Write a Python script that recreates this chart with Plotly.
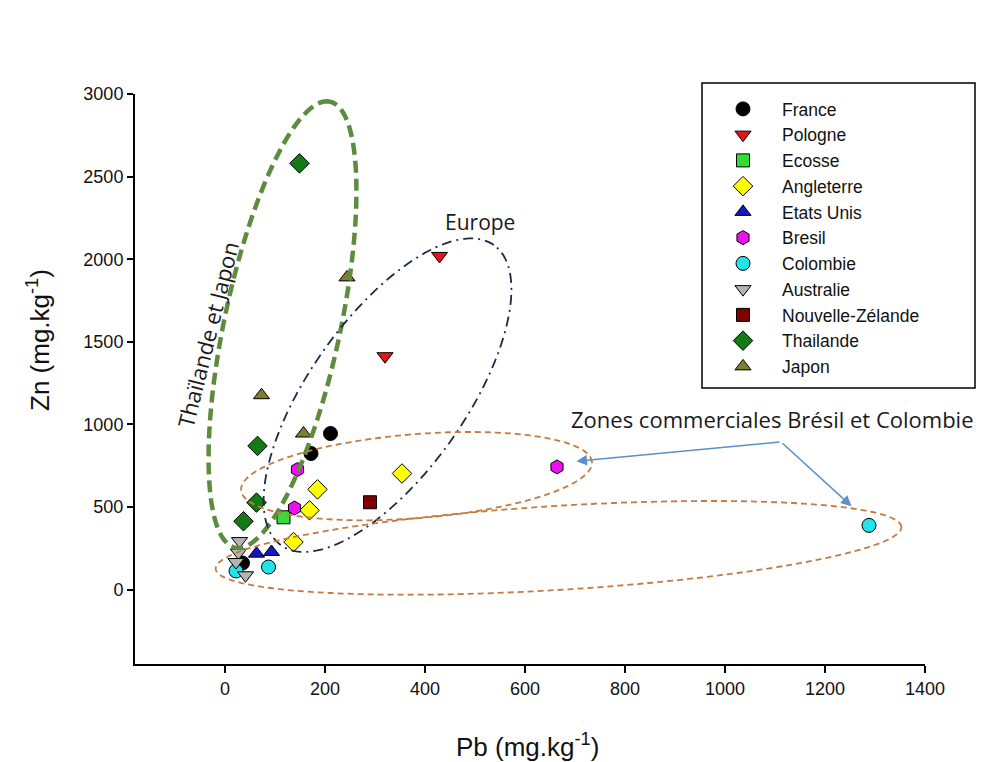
import numpy as np
import plotly.graph_objects as go

# Pb / Zn (mg.kg-1) par pays
france_pb = [211, 172, 35]
france_zn = [945, 824, 161]
pologne_pb = [429, 320]
pologne_zn = [2020, 1413]
ecosse_pb = [117]
ecosse_zn = [438]
angleterre_pb = [354, 185, 169, 137]
angleterre_zn = [703, 607, 480, 288]
etats_unis_pb = [63, 93]
etats_unis_zn = [218, 228]
bresil_pb = [145, 139, 664]
bresil_zn = [727, 494, 743]
colombie_pb = [87, 22, 1288]
colombie_zn = [137, 113, 389]
australie_pb = [29, 27, 22, 41]
australie_zn = [294, 224, 167, 87]
nz_pb = [290]
nz_zn = [529]
thailande_pb = [149, 65, 63, 37]
thailande_zn = [2580, 870, 527, 414]
japon_pb = [244, 73, 157]
japon_zn = [1890, 1177, 945]

series = [
    ("France", france_pb, france_zn, "circle", "#000000"),
    ("Pologne", pologne_pb, pologne_zn, "triangle-down", "#e3151c"),
    ("Ecosse", ecosse_pb, ecosse_zn, "square", "#35dc35"),
    ("Angleterre", angleterre_pb, angleterre_zn, "diamond", "#ffff00"),
    ("Etats Unis", etats_unis_pb, etats_unis_zn, "triangle-up", "#1414c8"),
    ("Bresil", bresil_pb, bresil_zn, "hexagon", "#ee10ee"),
    ("Colombie", colombie_pb, colombie_zn, "circle", "#22e3ea"),
    ("Australie", australie_pb, australie_zn, "triangle-down", "#b4b4b4"),
    ("Nouvelle-Zélande", nz_pb, nz_zn, "square", "#800000"),
    ("Thailande", thailande_pb, thailande_zn, "diamond", "#147a14"),
    ("Japon", japon_pb, japon_zn, "triangle-up", "#7d7f2e"),
]

x_range = [-180, 1400]
y_range = [-450, 3000]
OFF = 8  # marge du body de la page
W, H = 985 - OFF, 762 - OFF
ml, mr, mt, mb = 127, 60, 86, 98
pw, ph = W - ml - mr, H - mt - mb
kx = pw / (x_range[1] - x_range[0])   # px par unité
ky = ph / (y_range[1] - y_range[0])


def px_to_paper_x(px):
    return (px - OFF - ml) / pw


def px_to_paper_y(py):
    return (H - mb - (py - OFF)) / ph


def ellipse_path(cx, cy, a, b, angle):
    # a, b en pixels, angle en degrés (sens trigo à l'écran)
    t = np.linspace(0, 2 * np.pi, 140)
    th = np.radians(angle)
    dx = a * np.cos(t) * np.cos(th) - b * np.sin(t) * np.sin(th)
    dy = a * np.cos(t) * np.sin(th) + b * np.sin(t) * np.cos(th)
    xs = cx + dx / kx
    ys = cy + dy / ky
    return "M " + " L ".join(f"{x:.2f},{y:.2f}" for x, y in zip(xs, ys)) + " Z"


fig = go.Figure()
for name, pb, zn, sym, col in series:
    size = {"diamond": 15, "square": 13}.get(sym, 14)
    fig.add_trace(go.Scatter(
        x=pb, y=zn, mode="markers", name=name,
        marker=dict(symbol=sym, size=size, color=col,
                    line=dict(color="black", width=1)),
    ))

shapes = [
    dict(type="path", path=ellipse_path(115, 1604, 228, 58, 78),
         line=dict(color="#5e8c3e", width=4.5, dash="12px,6px")),
    dict(type="path", path=ellipse_path(325, 1177, 184, 78, 54.7),
         line=dict(color="#1c2a48", width=1.8, dash="10px,5px,2px,5px")),
    dict(type="path", path=ellipse_path(383, 687, 176, 42, 4.6),
         line=dict(color="#c47a40", width=1.8, dash="6px,4px")),
    dict(type="path", path=ellipse_path(667, 253, 343.5, 42, 3.5),
         line=dict(color="#c47a40", width=1.8, dash="6px,4px")),
    # cadre de la légende
    dict(type="rect", xref="paper", yref="paper",
         x0=px_to_paper_x(702), x1=px_to_paper_x(975),
         y0=px_to_paper_y(388), y1=px_to_paper_y(83),
         line=dict(color="black", width=1.5)),
]
for s in shapes:
    s.setdefault("layer", "above")

note_font = dict(family="Open Sans", size=22, color="#1a1a1a")
title_font = dict(family="Liberation Sans, Arial", size=26, color="#111111")
annotations = [
    dict(x=509, y=2226, text="Europe", showarrow=False,
         font=dict(note_font, size=21)),
    dict(x=-35, y=1540, text="Thaïlande et Japon", showarrow=False,
         textangle=-76, font=note_font),
    dict(x=1094, y=1031, text="Zones commerciales Brésil et Colombie",
         showarrow=False, font=note_font),
    dict(x=703, y=777, ax=1112, ay=894, axref="x", ayref="y", text="",
         showarrow=True, arrowhead=2, arrowsize=1.4, arrowwidth=1.5,
         arrowcolor="#5b8fc6"),
    dict(x=1253, y=505, ax=1112, ay=894, axref="x", ayref="y", text="",
         showarrow=True, arrowhead=2, arrowsize=1.4, arrowwidth=1.5,
         arrowcolor="#5b8fc6"),
    # titres des axes
    dict(xref="paper", yref="paper", x=px_to_paper_x(527), y=px_to_paper_y(745),
         xanchor="center", yanchor="middle",
         text="Pb (mg.kg<sup>-1</sup>)", showarrow=False, font=title_font),
    dict(xref="paper", yref="paper", x=px_to_paper_x(38), y=px_to_paper_y(340),
         xanchor="center", yanchor="middle",
         text="Zn (mg.kg<sup>-1</sup>)", showarrow=False, textangle=-90,
         font=title_font),
]

axis_font = dict(family="Liberation Sans, Arial", size=18, color="#111111")
fig.update_layout(
    width=W, height=H,
    margin=dict(l=ml, r=mr, t=mt, b=mb),
    paper_bgcolor="white", plot_bgcolor="white",
    shapes=shapes, annotations=annotations,
    showlegend=True,
    legend=dict(x=px_to_paper_x(704), y=px_to_paper_y(91),
                xanchor="left", yanchor="top", bgcolor="rgba(0,0,0,0)",
                borderwidth=0, itemwidth=68,
                font=dict(family="Liberation Sans, Arial", size=17.5,
                          color="#111111")),
    xaxis=dict(range=x_range, tick0=0, dtick=200, showgrid=False, zeroline=False,
               showline=True, linecolor="black", linewidth=2, ticks="outside",
               ticklen=7, tickwidth=1.5, tickcolor="black", tickfont=axis_font),
    yaxis=dict(range=y_range, tick0=0, dtick=500, showgrid=False, zeroline=False,
               showline=True, linecolor="black", linewidth=2, ticks="outside",
               ticklen=6, tickwidth=1.5, tickcolor="black", tickfont=axis_font),
)

fig.write_html("out.html")
